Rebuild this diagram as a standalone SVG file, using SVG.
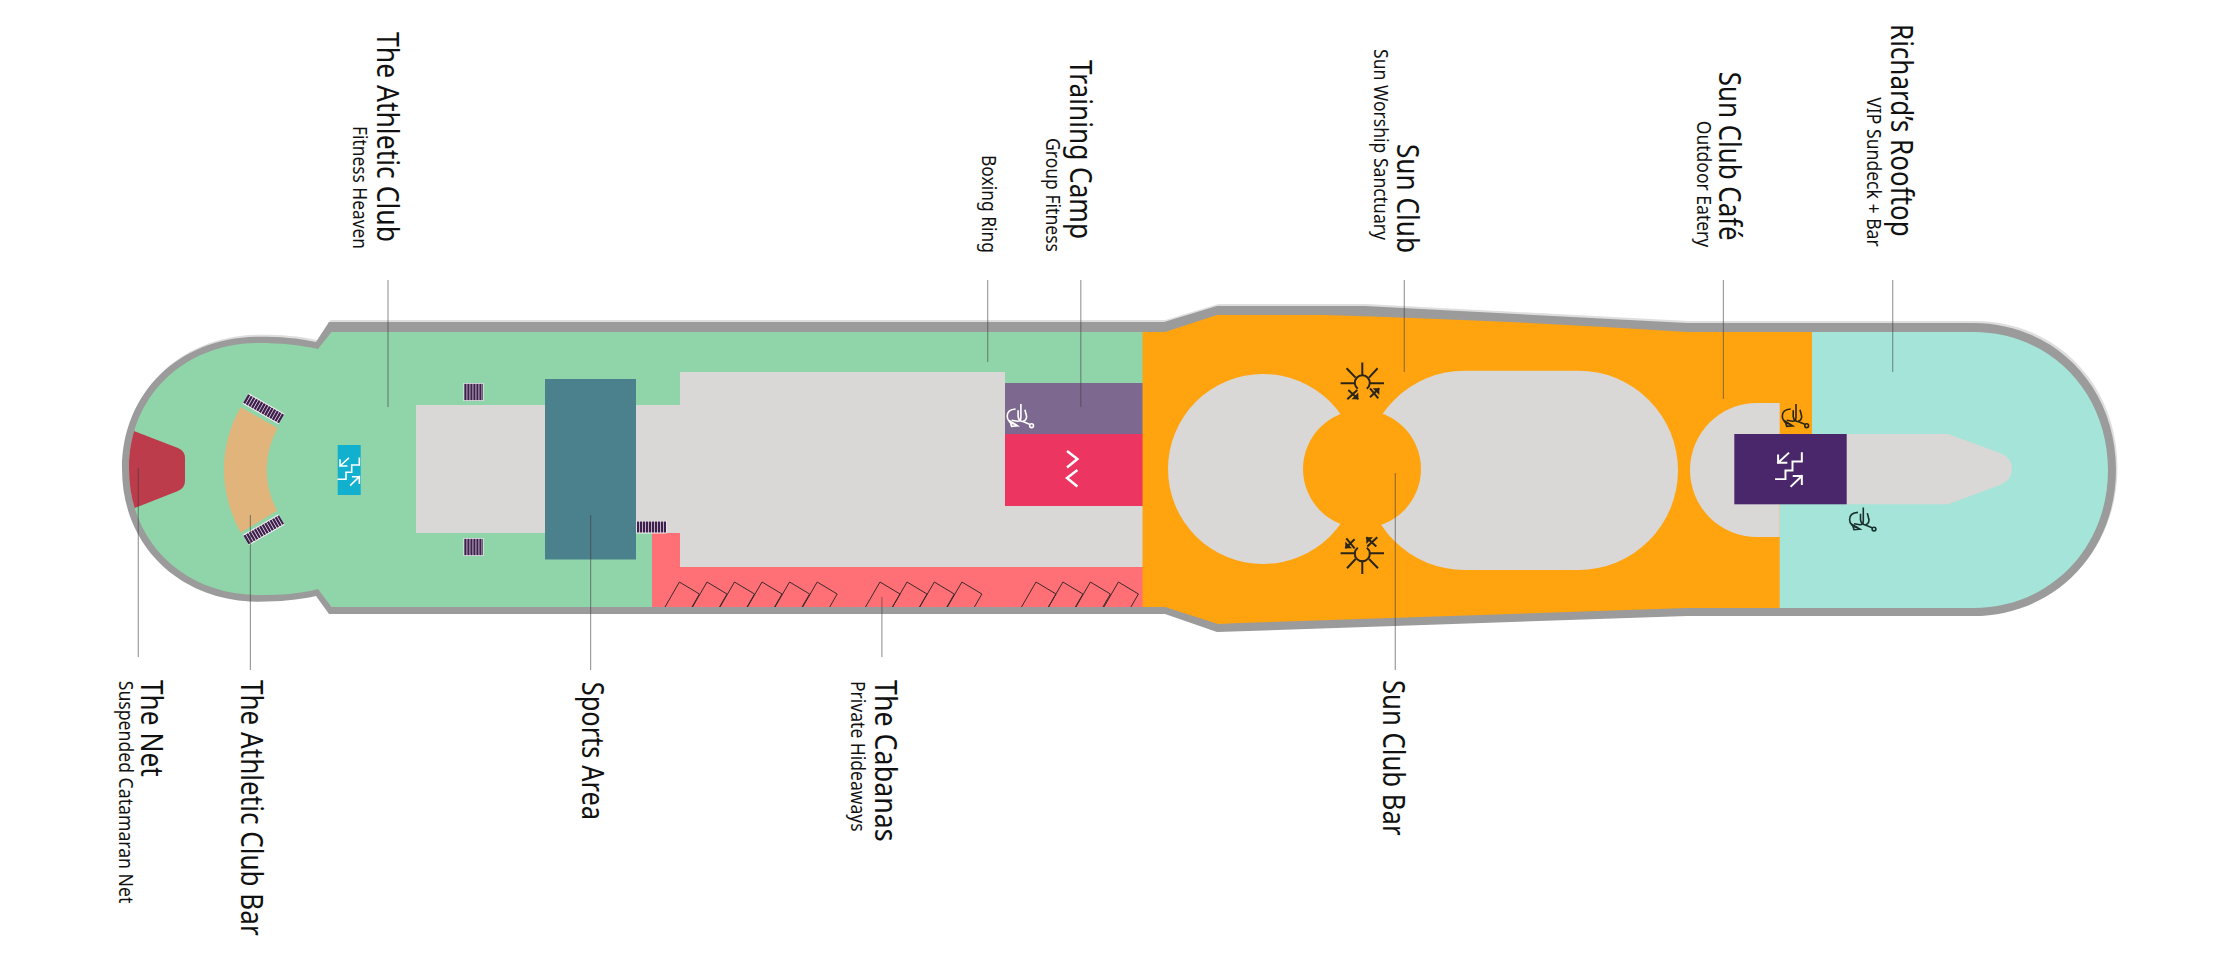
<svg xmlns="http://www.w3.org/2000/svg" xmlns:xlink="http://www.w3.org/1999/xlink" width="2232" height="960" viewBox="0 0 2232 960">
<style>
text{font-family:"Noto Sans","Open Sans","Liberation Sans",sans-serif;fill:#111;}
.m{font-size:31px;}
.s{font-size:20px;}
.ld{stroke:#3c3c3c;stroke-width:1.2;stroke-opacity:.5;fill:none;}
.gray{fill:#d9d8d6;}
.stairs{stroke:#3f1f4d;stroke-dasharray:2.3 .7;fill:none;}
.stbg{stroke:#f4f2f4;fill:none;}
.ic{fill:none;stroke-linecap:square;}
</style>
<defs>
<clipPath id="deck"><path d="M331.5,332 H1165 L1217,315 H1323 Q1500,320 1687,332 H1973 C2050,332 2108,392 2108,470 C2108,548 2050,608 1973,608 H1687 L1240,623 L1218,624 L1165,607 H331.5 L318,589 C300,594 280,595 259,595 C184,595 129,542 129,469 C129,396 184,343 259,343 C280,343 300,345 318,349 Z"/></clipPath>
<path id="hullP" d="M329,322 H1164 L1217,306 H1365 L1687,323 H1973 C2054,323 2116,386 2116,469.5 C2116,553 2054,616 1973,616 H1687 L1217,632 L1165,614 H329 L316,596 C298,600 280,601.7 259,601.7 C180,601.7 122,546 122,469 C122,392 180,336.7 259,336.7 C280,336.7 298,338 316,342 Z"/>
<g id="stairIcon" class="ic" stroke="#fff" stroke-width="1.6">
<path d="M0,21 H7.7 V14 H13.4 V6.700 H21 V0"/>
<path d="M10,0 L1.7,7.700 M1.7,1.700 V7.700 H8.400"/>
<path d="M12.400,26.700 L21,18.400 M14.400,18.400 H21 V25"/>
</g>
<g id="wc" fill="none" stroke="currentColor" stroke-width="1.6">
<path d="M9,5.700 C3,6 .6,9 .6,13 C.6,17 4,20.500 8.300,20.700"/>
<path d="M14.300,.7 V14 Q14.300,18 11,18 L5,17"/>
<path d="M11.500,7 V13 Q12,18 17,18.500 L23,21"/>
<path d="M18.300,6.400 L20,13 Q20,17 16.500,18"/>
<path d="M3.500,18 L11,22.500 L5,23 Z"/>
<circle cx="25" cy="22.400" r="1.900"/>
</g>
<g id="sun" fill="none" stroke="#2b2516" stroke-width="2">
<path d="M-21.700,0 H-7.300 M7,0 H21.700 M0,-20.700 V-7.300 M-15.700,-15 L-6.700,-5.700 M15.300,-15 L6.700,-5.700"/>
<path d="M-4.500,5.500 A7.500,7.500 0 1 1 4.500,5.500"/>
<path d="M-15,16 L-5,6.700 M-14,6.700 L-4,16 M7.700,5 L16,15 M7.700,14 L17,5"/>
<path d="M-4,16 V9.300 L-10.700,16 Z M17,5 H10.300 L17,11.700 Z" fill="#2b2516" stroke="none"/>
</g>
</defs>
<rect width="2232" height="960" fill="#fff"/>
<g id="hull">
<use href="#hullP" transform="translate(1.5,-2)" fill="#dedede"/>
<use href="#hullP" fill="#9b9b9b"/>
</g>
<g clip-path="url(#deck)">
<rect id="athletic-club" x="110" y="300" width="1040" height="340" fill="#90d5a9"/>
<path id="gray-deck" class="gray" d="M416,405 H680 V372 H1005 V506 H1143 V567 H680 V533 H416 Z"/>
<g id="cabanas">
<path d="M652,533 H680 V567 H1143 V620 H652 Z" fill="#ff7076"/>
<path fill="none" stroke="#3a2a2a" stroke-width="1" d="M665,607 L679.4,582 L699.4,594 L692,607 M692.5,607 L707,582 L727,594 L719.5,607 M720,607 L734.5,582 L754.5,594 L747,607 M747.5,607 L762,582 L782,594 L774.5,607 M775,607 L789.6,582 L809.6,594 L802,607 M802.7,607 L817.2,582 L837.2,594 L829.7,607 M865.5,607 L880,582 L900,594 L892.5,607 M892.5,607 L907,582 L927,594 L919.5,607 M919.8,607 L934.3,582 L954.3,594 L946.8,607 M947.4,607 L961.9,582 L981.9,594 L974.4,607 M1021.5,607 L1036,582 L1056,594 L1048.5,607 M1048.4,607 L1062.9,582 L1082.9,594 L1075.4,607 M1075.9,607 L1090.4,582 L1110.4,594 L1102.9,607 M1103.9,607 L1118.4,582 L1138.4,594 L1130.9,607"/>
</g>
<rect id="sports-area" x="545" y="379" width="91" height="180.500" fill="#4a818c"/>
<rect id="training-camp" x="1005" y="383" width="138" height="51" fill="#7d6890"/>
<g id="boxing-ring">
<rect x="1005" y="434" width="138" height="72" fill="#ec3560"/>
<path d="M1067,451 L1077.400,459 L1067,467.500 M1077.400,470 L1067,478 L1077.400,486.500" fill="none" stroke="#fff" stroke-width="2.500"/>
</g>
<rect id="richards-rooftop" x="1779" y="300" width="360" height="340" fill="#a5e5d9"/>
<path id="sun-club" fill="#ffa30f" d="M1142.500,290 H1812 V434 H1779.700 V650 H1142.500 Z"/>
<g id="pools" class="gray">
<circle cx="1263" cy="469" r="95"/>
<rect x="1365" y="370.700" width="313" height="199.300" rx="99.700" ry="99.700"/>
<path d="M1779.700,403 H1757 A67,67 0 0 0 1757,537 H1779.700 Z"/>
<path d="M1840,434 H1948 L2000,453 Q2012,458 2012,469 Q2012,480 2000,485 L1948,504.300 H1840 Z"/>
</g>
<circle id="sun-club-bar" cx="1362" cy="469" r="59" fill="#ffa30f"/>
<path id="the-net" fill="#bd3c4c" d="M130,429.500 L178,448 Q185,451 185,458 V481 Q185,488 178,491 L131,509.500 Q122,470 130,429.500 Z"/>
</g>
<g id="athletic-club-bar">
<path fill="#e0b47a" d="M240.700,407.300 L277.700,428 Q266.700,448 266.700,470 Q266.700,491 277,510.700 L240.700,532.700 Q224,502 224,470 Q224,436 240.700,407.300 Z"/>
</g>
<g id="stairs-set">
<path class="stbg" stroke-width="12" d="M245.700,398.500 L281.500,419 M246,540 L281.500,519.500"/>
<path class="stairs" stroke-width="10" d="M245.700,398.500 L281.500,419 M246,540 L281.500,519.500"/>
<rect x="463.500" y="383" width="20" height="18" fill="#f4f2f4"/>
<rect x="463.500" y="538" width="20" height="18" fill="#f4f2f4"/>
<rect x="636.500" y="521" width="30" height="12.500" fill="#f4f2f4"/>
<path class="stairs" stroke-width="16.500" d="M464.300,392 H483 M464.300,547 H483"/>
<path class="stairs" stroke-width="11" d="M637,527 H666"/>
</g>
<g id="stair-blue">
<rect x="337.700" y="445" width="23" height="50" fill="#12b0cf"/>
<use href="#stairIcon" transform="translate(338.300,458.300)"/>
</g>
<g id="stair-purple">
<rect x="1734.300" y="434" width="112.400" height="70.300" fill="#4a266a"/>
<use href="#stairIcon" transform="translate(1776,453.300) scale(1.23)"/>
</g>
<g id="icons">
<use href="#wc" x="1006.600" y="403.300" color="#fff"/>
<use href="#wc" x="1781.700" y="403.300" color="#2b2516"/>
<use href="#wc" x="1849" y="506.700" color="#17302c"/>
<use href="#sun" transform="translate(1362.300,383.300)"/>
<use href="#sun" transform="translate(1362.300,553.300) rotate(180)"/>
</g>
<g id="connectors">
<path class="ld" d="M388,280 V407"/>
<path class="ld" d="M987.700,280 V362"/>
<path class="ld" d="M1080.800,280 V407"/>
<path class="ld" d="M1404.300,280 V372"/>
<path class="ld" d="M1723.400,280 V399"/>
<path class="ld" d="M1892.700,280 V372"/>
<path class="ld" d="M138.300,468 V657"/>
<path class="ld" d="M250.400,515 V670"/>
<path class="ld" d="M590.600,515 V670"/>
<path class="ld" d="M881.900,597 V657"/>
<path class="ld" d="M1395.300,473 V670"/>
</g>
<g id="labels">
<text class="m" transform="translate(377,32) rotate(90)" textLength="210" lengthAdjust="spacingAndGlyphs">The Athletic Club</text>
<text class="s" transform="translate(353,126) rotate(90)" textLength="123" lengthAdjust="spacingAndGlyphs">Fitness Heaven</text>
<text class="s" transform="translate(982,155) rotate(90)" textLength="98" lengthAdjust="spacingAndGlyphs">Boxing Ring</text>
<text class="m" transform="translate(1070,60) rotate(90)" textLength="179" lengthAdjust="spacingAndGlyphs">Training Camp</text>
<text class="s" transform="translate(1046,138) rotate(90)" textLength="114" lengthAdjust="spacingAndGlyphs">Group Fitness</text>
<text class="m" transform="translate(1396.600,144) rotate(90)" textLength="109" lengthAdjust="spacingAndGlyphs">Sun Club</text>
<text class="s" transform="translate(1374.400,49) rotate(90)" textLength="191" lengthAdjust="spacingAndGlyphs">Sun Worship Sanctuary</text>
<text class="m" transform="translate(1719,71.700) rotate(90)" textLength="169" lengthAdjust="spacingAndGlyphs">Sun Club Café</text>
<text class="s" transform="translate(1696.700,120.700) rotate(90)" textLength="126.600" lengthAdjust="spacingAndGlyphs">Outdoor Eatery</text>
<text class="m" transform="translate(1891,24) rotate(90)" textLength="212.700" lengthAdjust="spacingAndGlyphs">Richard’s Rooftop</text>
<text class="s" transform="translate(1867,97.300) rotate(90)" textLength="149.400" lengthAdjust="spacingAndGlyphs">VIP Sundeck + Bar</text>
<text class="m" transform="translate(140.800,680) rotate(90)" textLength="96.700" lengthAdjust="spacingAndGlyphs">The Net</text>
<text class="s" transform="translate(119,680.700) rotate(90)" textLength="222.600" lengthAdjust="spacingAndGlyphs">Suspended Catamaran Net</text>
<text class="m" transform="translate(241.300,680) rotate(90)" textLength="255.700" lengthAdjust="spacingAndGlyphs">The Athletic Club Bar</text>
<text class="m" transform="translate(582,681.700) rotate(90)" textLength="138.300" lengthAdjust="spacingAndGlyphs">Sports Area</text>
<text class="m" transform="translate(874.500,680) rotate(90)" textLength="161.700" lengthAdjust="spacingAndGlyphs">The Cabanas</text>
<text class="s" transform="translate(851,681) rotate(90)" textLength="150.700" lengthAdjust="spacingAndGlyphs">Private Hideaways</text>
<text class="m" transform="translate(1383,680) rotate(90)" textLength="155.600" lengthAdjust="spacingAndGlyphs">Sun Club Bar</text>
</g>
</svg>
